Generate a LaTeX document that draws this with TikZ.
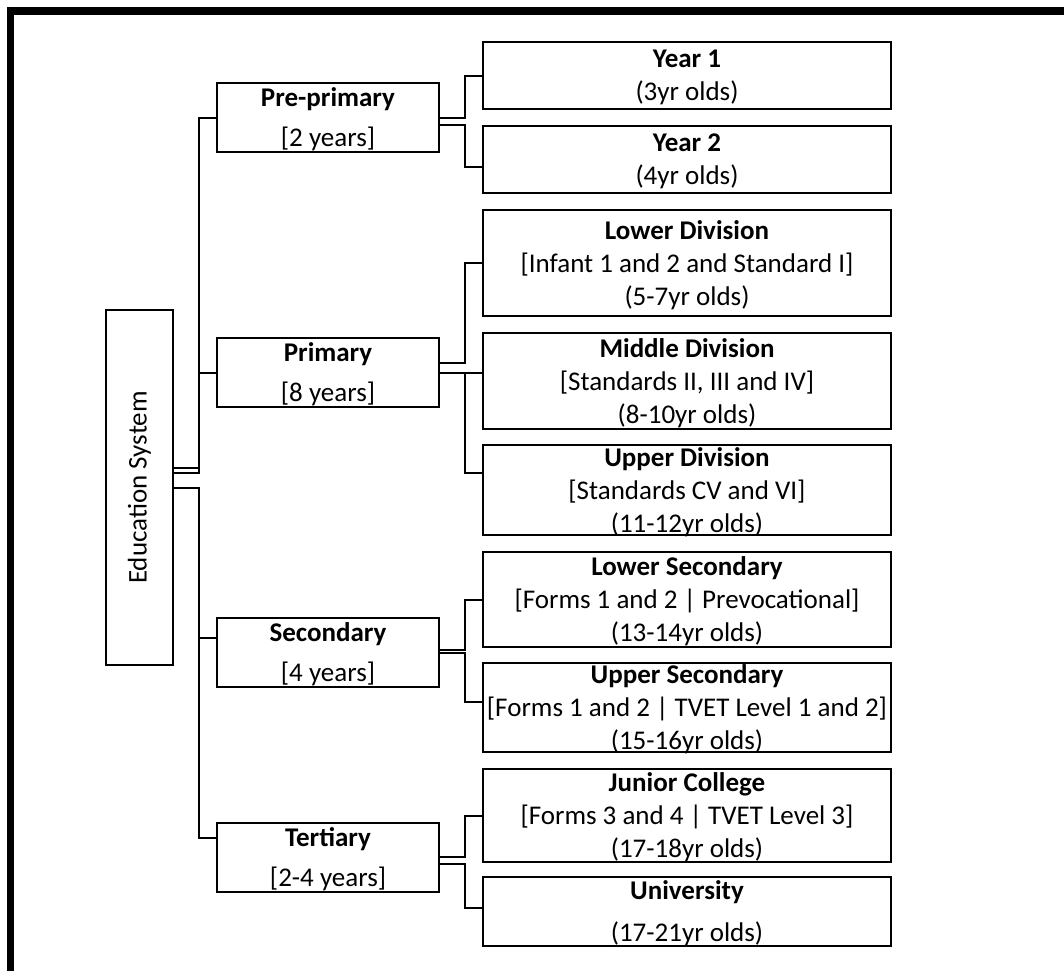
\documentclass[tikz,border=0pt]{standalone}
\usepackage{fontspec}
\setmainfont{Carlito}
\usetikzlibrary{calc}

\tikzset{
  box/.style={draw, line width=1pt, inner sep=0pt},
  midbox/.style={box, minimum width=111pt, minimum height=34.5pt},
  agebox/.style={box, minimum width=204pt},
  lbl/.style={align=center, inner sep=0pt, font=\fontsize{13.5}{16.5}\selectfont},
  link/.style={line width=1pt}
}

\begin{document}
\begin{tikzpicture}[x=0.5pt, y=-0.5pt]
    \useasboundingbox (0,0) rectangle (1064,970);

    % Draw the frame
    \draw[line width=3.8pt] (1075,10.8) -- (10.4,10.8) -- (10.4,985);

    % Root box
    \node[box, minimum width=33.5pt, minimum height=177.5pt,
          label={[lbl, rotate=90]center:Education System}] (edu) at (139.5,487.5) {};

    % The four stages
    \node[midbox, label={[lbl, yshift=-1pt]center:{\textbf{Pre-primary}\\[3.5pt]{}[2 years]}}] (pre) at (328,117.5) {};
    \node[midbox, label={[lbl, yshift=-1pt]center:{\textbf{Primary}\\[3.5pt]{}[8 years]}}] (pri) at (328,372.5) {};
    \node[midbox, label={[lbl, yshift=-1pt]center:{\textbf{Secondary}\\[3.5pt]{}[4 years]}}] (sec) at (328,652.5) {};
    \node[midbox, label={[lbl, yshift=-1pt]center:{\textbf{Tertiary}\\[3.5pt]{}[2-4 years]}}] (ter) at (328,857) {};

    % The levels inside each stage
    \node[agebox, minimum height=33.5pt, label={[lbl, yshift=-1pt]center:{\textbf{Year 1}\\(3yr olds)}}] (yr1) at (687,75.5) {};
    \node[agebox, minimum height=33.5pt, label={[lbl, yshift=-1pt]center:{\textbf{Year 2}\\(4yr olds)}}] (yr2) at (687,159.5) {};
    \node[agebox, minimum height=53pt, label={[lbl, yshift=-1pt]center:{\textbf{Lower Division}\\{}[Infant 1 and 2 and Standard I]\\(5-7yr olds)}}] (low) at (687,263) {};
    \node[agebox, minimum height=48pt, label={[lbl, yshift=-1pt]center:{\textbf{Middle Division}\\{}[Standards II, III and IV]\\(8-10yr olds)}}] (mid) at (687,381) {};
    \node[agebox, minimum height=45pt, label={[lbl, yshift=-1pt]center:{\textbf{Upper Division}\\{}[Standards CV and VI]\\(11-12yr olds)}}] (upd) at (687,490) {};
    \node[agebox, minimum height=47.5pt, label={[lbl, yshift=-1pt]center:{\textbf{Lower Secondary}\\{}[Forms 1 and 2 | Prevocational]\\(13-14yr olds)}}] (lsec) at (687,599.5) {};
    \node[agebox, minimum height=44.5pt, label={[lbl, yshift=-1pt]center:{\textbf{Upper Secondary}\\{}[Forms 1 and 2 | TVET Level 1 and 2]\\(15-16yr olds)}}] (usec) at (687,707.5) {};
    \node[agebox, minimum height=46.5pt, label={[lbl, yshift=-1pt]center:{\textbf{Junior College}\\{}[Forms 3 and 4 | TVET Level 3]\\(17-18yr olds)}}] (jcol) at (687,815.5) {};
    \node[agebox, minimum height=34.5pt, label={[lbl, yshift=-1pt]center:{\textbf{University}\\[4.5pt](17-21yr olds)}}] (uni) at (687,911.5) {};

    % Trunk lines
    \coordinate (trunkA) at (199,0);
    \coordinate (trunkB) at (465,0);

    % Root to stages
    \coordinate (secin) at ($(sec.west)+(0,-14.5)$);
    \coordinate (terin) at ($(ter.west)+(0,-19)$);
    \draw[link] ($(edu.east)+(0,-19.5)$) -| (trunkA |- pre.west) -- (pre.west);
    \draw[link] ($(edu.east)+(0,-14.5)$) -| (trunkA |- pri.west) -- (pri.west);
    \draw[link] (edu.east) -| (trunkA |- secin) -- (secin);
    \draw[link] (edu.east) -| (trunkA |- terin) -- (terin);

    % Pre-primary to years
    \coordinate (prelo) at ($(pre.east)+(0,7.5)$);
    \draw[link] (pre.east) -- (trunkB |- pre.east) |- (yr1.west);
    \draw[link] (prelo) -- (trunkB |- prelo) |- ($(yr2.west)+(0,7)$);

    % Primary to divisions
    \coordinate (prihi) at ($(pri.east)+(0,-9.5)$);
    \draw[link] (prihi) -- (trunkB |- prihi) |- (low.west);
    \draw[link] (pri.east) -- (pri.east -| mid.west);
    \draw[link] (trunkB |- pri.east) |- ($(upd.west)+(0,-17)$);

    % Secondary to its levels
    \coordinate (sechi) at ($(sec.east)+(0,-2.5)$);
    \draw[link] (sechi) -- (trunkB |- sechi) |- (lsec.west);
    \draw[link] (sec.east) -- (trunkB |- sec.east) |- ($(usec.west)+(0,-6)$);

    % Tertiary to its levels
    \coordinate (terlo) at ($(ter.east)+(0,7)$);
    \draw[link] (ter.east) -- (trunkB |- ter.east) |- (jcol.west);
    \draw[link] (terlo) -- (trunkB |- terlo) |- ($(uni.west)+(0,-3.5)$);

\end{tikzpicture}
\end{document}
